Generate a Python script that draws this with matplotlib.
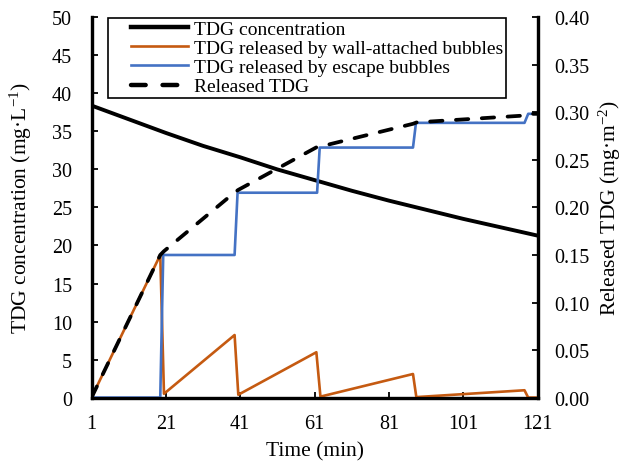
import numpy as np
import matplotlib
matplotlib.use("Agg")
import matplotlib.pyplot as plt
from matplotlib.lines import Line2D
from matplotlib.legend_handler import HandlerLine2D

plt.rcParams['font.family'] = ['Liberation Serif', 'DejaVu Serif']
plt.rcParams['mathtext.fontset'] = 'custom'
plt.rcParams['mathtext.rm'] = 'Liberation Serif'
plt.rcParams['mathtext.it'] = 'Liberation Serif:italic'

#TDG concentration (left axis, mg/L), read every 10 min
conc_t = [1, 11, 21, 31, 41, 51, 61, 71, 81, 91, 101, 111, 121]
conc_v = [38.4, 36.6, 34.8, 33.1, 31.6, 30.0, 28.6, 27.2, 25.9, 24.7, 23.5, 22.4, 21.3]

#TDG released by wall-attached bubbles (right axis, mg/m2)
wall_t = [1, 19.5, 20.5, 39.5, 40.5, 61.5, 62.6, 87.5, 88.4, 117.5, 118.5, 121]
wall_v = [0.0, 0.150, 0.004, 0.0658, 0.003, 0.0477, 0.001, 0.0248, 0.0005, 0.0077, 0.0, 0.0]

#TDG released by escape bubbles (right axis)
esc_t = [1, 19.5, 20.3, 39.5, 40.3, 61.7, 62.4, 87.5, 88.3, 117.5, 118.5, 121]
esc_v = [0.0, 0.0, 0.150, 0.150, 0.2155, 0.2155, 0.263, 0.263, 0.289, 0.289, 0.2985, 0.2985]

#Released TDG total (right axis)
rel_t = [1, 19.5, 20.5, 39.5, 40.5, 61.5, 62.5, 87.5, 88.5, 117.5, 118.5, 121]
rel_v = [0.0, 0.150, 0.154, 0.2158, 0.2185, 0.2632, 0.264, 0.288, 0.2895, 0.2967, 0.2985, 0.2985]

xticks = [1, 21, 41, 61, 81, 101, 121]

fig = plt.figure(figsize=(6.25, 4.64), dpi=100)
ax = fig.add_axes([0.1464, 0.141, 0.7136, 0.8195])
ax2 = ax.twinx()

ax.plot(conc_t, conc_v, color='black', lw=2.8, solid_capstyle='butt')
ax2.plot(wall_t, wall_v, color='#C55A11', lw=1.9)
ax2.plot(esc_t, esc_v, color='#4472C4', lw=1.9)
ax2.plot(rel_t, rel_v, color='black', lw=2.7, dashes=(3.3, 3.6), dash_capstyle='round')

ax.set_xlim(1, 121)
ax.set_ylim(0, 50)
ax2.set_ylim(0, 0.40)
ax.set_xticks(xticks)
ax.set_yticks(np.arange(0, 51, 5))
ax2.set_yticks(np.arange(0, 0.41, 0.05))
ax2.set_yticklabels(['%.2f' % v for v in np.arange(0, 0.41, 0.05)])

for a in (ax, ax2):
    a.spines['top'].set_visible(False)
    for s in ('left', 'right', 'bottom'):
        a.spines[s].set_linewidth(2.3)
    a.tick_params(labelsize=14.5, direction='in', length=4, width=1.3)
ax.tick_params(axis='x', pad=12)
ax.tick_params(axis='y', pad=14)
ax2.tick_params(axis='y', pad=12)

ax.set_xlabel('Time (min)', fontsize=15.5, labelpad=6)
ax.set_ylabel('TDG concentration (mg·L$^{-1}$)', fontsize=15.5, labelpad=13)
ax2.set_ylabel('Released TDG (mg·m$^{-2}$)', fontsize=15.5, labelpad=5)

handles = [Line2D([], [], color='black', lw=3.2),
           Line2D([], [], color='#C55A11', lw=1.9),
           Line2D([], [], color='#4472C4', lw=1.9),
           Line2D([], [], color='black', lw=3.2, dashes=(3.3, 3.8), dash_capstyle='round')]
labels = ['TDG concentration', 'TDG released by wall-attached bubbles',
          'TDG released by escape bubbles', 'Released TDG']
hmap = {h: HandlerLine2D(xpad=1.05) for h in handles}
leg = ax2.legend(handles, labels, loc='upper left', bbox_to_anchor=(108 / 625, 1 - 19 / 464),
                 bbox_transform=fig.transFigure, fontsize=14, frameon=True, fancybox=False,
                 edgecolor='black', framealpha=1, borderpad=0.12, labelspacing=0.08,
                 handlelength=4.0, handletextpad=0.3, borderaxespad=0, handler_map=hmap)
leg.get_frame().set_linewidth(1.2)

fig.savefig('out.png', dpi=100)
